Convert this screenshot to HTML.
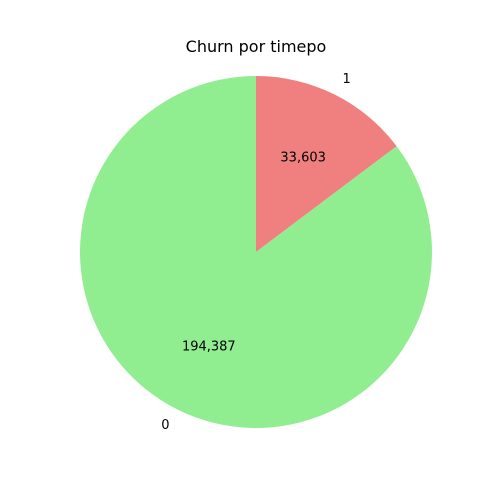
<!DOCTYPE html>
<html><head><meta charset="utf-8"><style>
html,body{margin:0;padding:0;background:#fff;width:500px;height:500px;overflow:hidden;}
svg{display:block;}
svg text{font-family:"DejaVu Sans","Liberation Sans",sans-serif;}
</style></head><body>
<svg width="500" height="500" viewBox="0 0 500 500">
<rect width="500" height="500" fill="#fff"/>
<text x="256" y="52" text-anchor="middle" font-size="16">Churn por timepo</text>
<g id="pie"></g>
</svg>
<script>
const categories = ["1", "0"];
const values = [33603, 194387];
const valueLabels = ["33,603", "194,387"];
const colors = ["#f08080", "#90ee90"];
const cx = 256, cy = 252, r = 176;
const g = document.getElementById('pie');
const ns = 'http://www.w3.org/2000/svg';
const total = values.reduce((a,b)=>a+b,0);
let start = 90;
function pt(deg, rad){const a=deg*Math.PI/180;return [cx+rad*Math.cos(a), cy-rad*Math.sin(a)];}
values.forEach((v,i)=>{
  const sweep = v/total*360;
  const end = start - sweep;
  const [x1,y1]=pt(start,r),[x2,y2]=pt(end,r);
  const p=document.createElementNS(ns,'path');
  p.setAttribute('d',`M${cx},${cy} L${x1},${y1} A${r},${r} 0 ${sweep>180?1:0} 1 ${x2},${y2} Z`);
  p.setAttribute('fill',colors[i]);
  
  
  g.appendChild(p);
  const mid = start - sweep/2;
  const [lx,ly]=pt(mid,r*1.1);
  const t=document.createElementNS(ns,'text');
  t.setAttribute('x',lx);t.setAttribute('y',ly+4);
  t.setAttribute('font-size','13');
  t.setAttribute('text-anchor', Math.cos(mid*Math.PI/180)>=0?'start':'end');
  t.textContent=categories[i];
  
  
  g.appendChild(t);
  const [vx,vy]=pt(mid,r*0.6);
  const tv=document.createElementNS(ns,'text');
  tv.setAttribute('x',vx);tv.setAttribute('y',vy+4);
  tv.setAttribute('font-size','13');
  tv.setAttribute('text-anchor','middle');
  tv.textContent=valueLabels[i];
  
  
  g.appendChild(tv);
  start = end;
});
</script>
</body></html>
